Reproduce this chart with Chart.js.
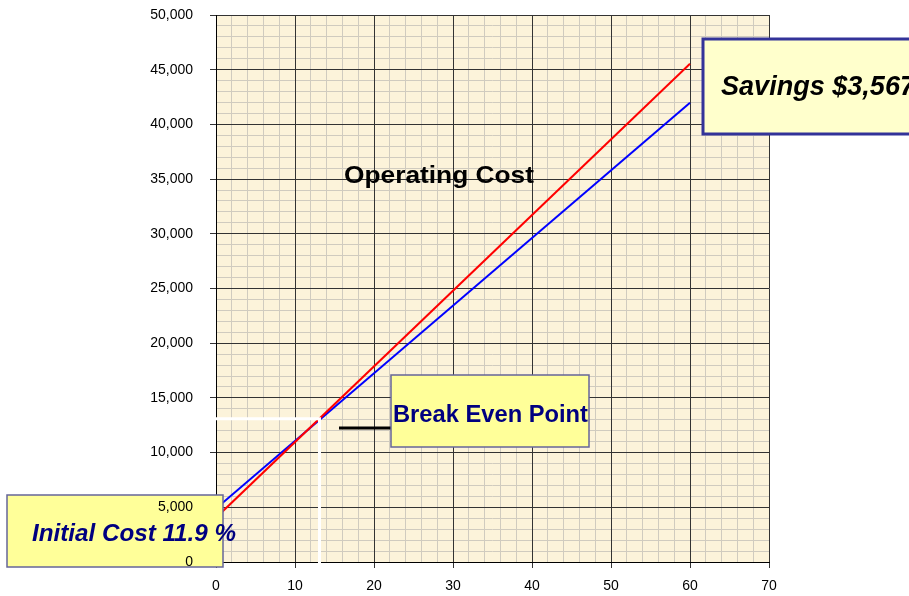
<!DOCTYPE html>
<html>
<head>
<meta charset="utf-8">
<script src="https://cdn.jsdelivr.net/npm/chart.js@4"></script>
<style>
  html, body { margin: 0; padding: 0; background: #fff; }
  #wrap { width: 909px; height: 596px; }
</style>
</head>
<body>
<div id="wrap"><canvas id="myChart" width="909" height="596"></canvas></div>
<script>
// chart data
const months = [0, 60];
const costRed = [4050, 45550];
const costBlue = [4880, 41980];
const yMajor = 5000, yMinor = 1000, yMax = 50000;
const xMajor = 10, xMinor = 2, xMax = 70;
const breakEven = { x: 13.1, y: 13100 };

const FONT = "'Liberation Sans', Arial, sans-serif";

function fitText(ctx, text, left, baseline, width, font, color) {
    ctx.save();
    ctx.font = font;
    ctx.fillStyle = color;
    ctx.textBaseline = 'alphabetic';
    ctx.textAlign = 'left';
    const w = ctx.measureText(text).width;
    ctx.translate(left, baseline);
    ctx.scale(width / w, 1);
    ctx.fillText(text, 0, 0);
    ctx.restore();
}

function box(ctx, x, y, w, h, fill, stroke, lw) {
    ctx.save();
    ctx.fillStyle = fill;
    ctx.fillRect(x, y, w, h);
    ctx.strokeStyle = stroke;
    ctx.lineWidth = lw;
    ctx.strokeRect(x, y, w, h);
    ctx.restore();
}

const decor = {
    id: 'decor',
    beforeDraw(chart) {
        const { ctx, chartArea: a } = chart;
        ctx.save();
        ctx.fillStyle = '#fcf3da';
        ctx.fillRect(a.left, a.top, a.right - a.left, a.bottom - a.top);
        ctx.restore();
    },
    afterDatasetsDraw(chart) {
        const ctx = chart.ctx;
        fitText(ctx, 'Operating Cost', 344, 183, 190, 'bold 24px ' + FONT, '#000');

        box(ctx, 703, 39, 230, 95, '#ffffcc', '#333399', 3);
        fitText(ctx, 'Savings $3,567', 721, 95, 194, 'italic bold 27px ' + FONT, '#000');

        // pointer to break even
        ctx.save();
        ctx.strokeStyle = '#000';
        ctx.lineWidth = 3;
        ctx.beginPath();
        ctx.moveTo(339, 428);
        ctx.lineTo(391, 428);
        ctx.stroke();
        ctx.restore();

        box(ctx, 391, 375, 198, 72, '#ffff99', '#666699', 1.5);
        fitText(ctx, 'Break Even Point', 393, 422, 195, 'bold 24px ' + FONT, '#000080');

        box(ctx, 7, 495, 216, 72, '#ffff99', '#666699', 1.5);
        fitText(ctx, 'Initial Cost 11.9 %', 32, 541, 204, 'italic bold 24px ' + FONT, '#000080');
    },
    afterDraw(chart) {
        const { ctx, scales: { x, y } } = chart;
        const px = x.getPixelForValue(breakEven.x);
        const py = y.getPixelForValue(breakEven.y);
        const y0 = y.getPixelForValue(0);
        ctx.save();
        ctx.strokeStyle = '#fff';
        ctx.lineWidth = 3;
        ctx.beginPath();
        ctx.moveTo(213, py);
        ctx.lineTo(px, py);
        ctx.lineTo(px, y0 + 1);
        ctx.stroke();
        ctx.restore();
    }
};

const minorAxis = (pos, step, max) => ({
    type: 'linear',
    position: pos,
    min: 0,
    max: max,
    afterFit: s => {
        if (pos === 'left') s.width = 0; else s.height = 0;
        s.paddingTop = 0; s.paddingBottom = 0;
    },
    border: { display: false },
    grid: { z: -2, color: '#d0cbbf', lineWidth: 1, drawTicks: false },
    ticks: { display: false, stepSize: step, autoSkip: false }
});

const ctx = document.getElementById('myChart').getContext('2d');

new Chart(ctx, {
    type: 'line',
    data: {
        datasets: [
            {
                data: months.map((m, i) => ({ x: m, y: costRed[i] })),
                borderColor: '#ff0000',
                borderWidth: 2,
                pointRadius: 0
            },
            {
                data: months.map((m, i) => ({ x: m, y: costBlue[i] })),
                borderColor: '#0000ff',
                borderWidth: 2,
                pointRadius: 0
            }
        ]
    },
    options: {
        responsive: false,
        animation: false,
        layout: { padding: { left: 0, top: 15, right: 140, bottom: 0 } },
        plugins: { legend: { display: false }, tooltip: { enabled: false } },
        scales: {
            xMinorGrid: minorAxis('bottom', xMinor, xMax),
            yMinorGrid: minorAxis('left', yMinor, yMax),
            x: {
                type: 'linear',
                min: 0,
                max: xMax,
                afterFit: s => { s.height = 34; },
                border: { color: '#000', width: 1 },
                grid: { z: -1, color: '#333', tickColor: '#333', tickLength: 6 },
                ticks: {
                    stepSize: xMajor,
                    maxRotation: 0,
                    padding: 10,
                    color: '#000',
                    font: { family: FONT, size: 14 }
                }
            },
            y: {
                min: 0,
                max: yMax,
                afterFit: s => { s.width = 216; s.paddingTop = 0; s.paddingBottom = 0; },
                border: { color: '#000', width: 1 },
                grid: { z: -1, color: '#333', tickColor: '#333', tickLength: 6 },
                ticks: {
                    z: 1,
                    stepSize: yMajor,
                    padding: 17,
                    color: '#000',
                    font: { family: FONT, size: 14 },
                    callback: v => v.toLocaleString('en-US')
                }
            }
        }
    },
    plugins: [decor]
});
</script>
</body>
</html>
